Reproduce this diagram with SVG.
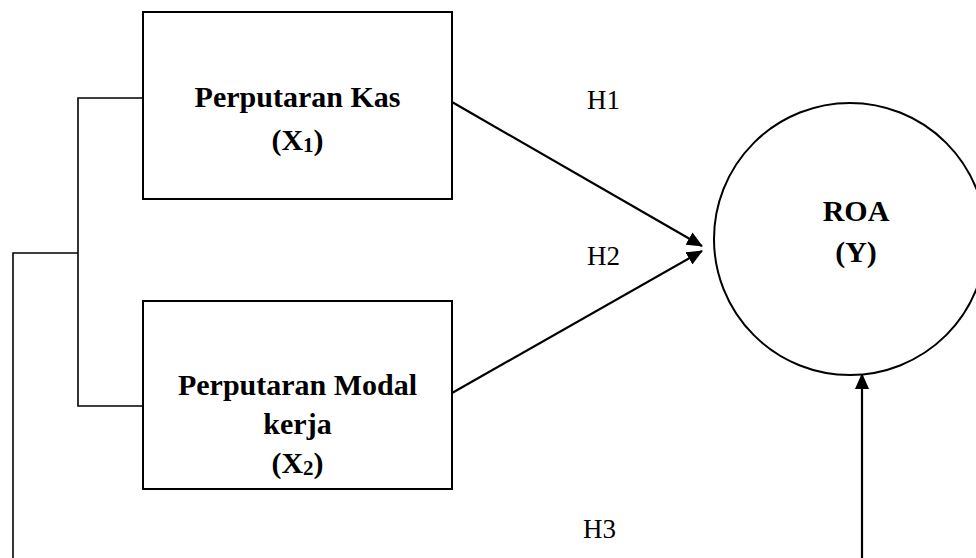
<svg xmlns="http://www.w3.org/2000/svg" width="976" height="558" viewBox="0 0 976 558">
<style>
.box{fill:#fff;stroke:#000;stroke-width:2}
.circ{fill:#fff;stroke:#000;stroke-width:2}
.ln{fill:none;stroke:#000;stroke-width:1.6}
.arr{fill:none;stroke:#000;stroke-width:2.2}
.t{font-family:"Liberation Serif","Times New Roman",serif;font-size:30px;fill:#000;text-anchor:middle}
.b{font-weight:bold}
.lbl{font-family:"Liberation Serif","Times New Roman",serif;font-size:27px;fill:#000}
</style>
<defs>
<marker id="ah" markerUnits="userSpaceOnUse" markerWidth="16" markerHeight="14" refX="15" refY="7" orient="auto">
<path d="M0,0 L16,7 L0,14 Z" fill="#000"/>
</marker>
</defs>
<rect width="976" height="558" fill="#fff"/>
<g id="connectors">
<polyline class="ln" points="143,98 78,98 78,406 143,406"/>
<polyline class="ln" points="78,253 13,253 13,558"/>
<line class="arr" x1="452" y1="102" x2="702" y2="246" marker-end="url(#ah)"/>
<line class="arr" x1="452" y1="393" x2="702" y2="251" marker-end="url(#ah)"/>
<line class="arr" x1="862" y1="558" x2="862" y2="374" marker-end="url(#ah)"/>
<text class="lbl" x="587" y="109">H1</text>
<text class="lbl" x="587" y="265">H2</text>
<text class="lbl" x="583" y="538">H3</text>
</g>
<g id="node-x1">
<rect class="box" x="143" y="12" width="309" height="187"/>
<text class="t b" x="297.5" y="107">Perputaran Kas</text>
<text class="t b" x="297.5" y="150">(X<tspan font-size="21" dy="2">1</tspan><tspan dy="-2">)</tspan></text>
</g>
<g id="node-x2">
<rect class="box" x="143" y="301" width="309" height="188"/>
<text class="t b" x="297.5" y="395">Perputaran Modal</text>
<text class="t b" x="297.5" y="434">kerja</text>
<text class="t b" x="297.5" y="473">(X<tspan font-size="21" dy="2">2</tspan><tspan dy="-2">)</tspan></text>
</g>
<g id="node-y">
<circle class="circ" cx="850" cy="239" r="136"/>
<text class="t b" x="856" y="221">ROA</text>
<text class="t b" x="856" y="262">(Y)</text>
</g>
</svg>
